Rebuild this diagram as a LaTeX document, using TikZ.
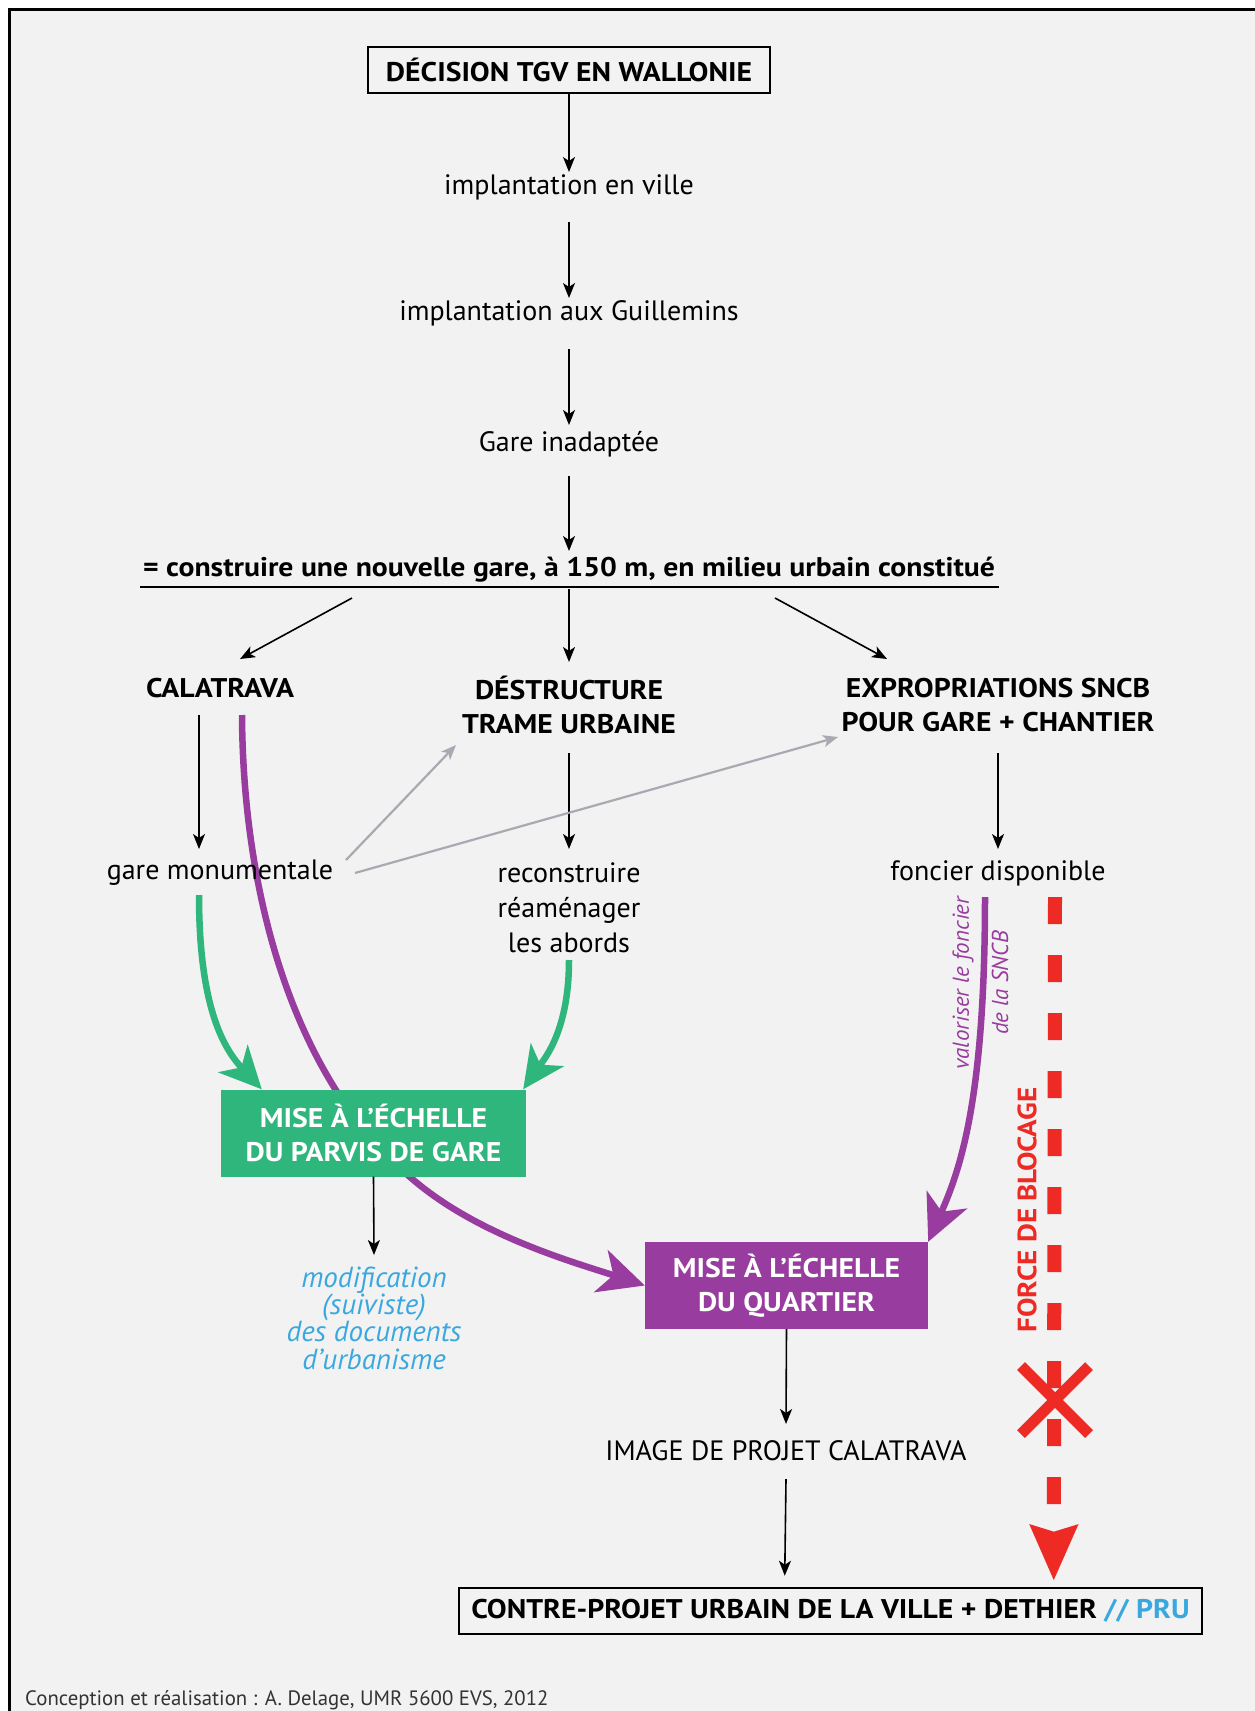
\documentclass[tikz,border=0pt]{standalone}
\usepackage{fontspec}
\setmainfont{PT Sans}[BoldFeatures={FakeStretch=1.1}]
\usetikzlibrary{arrows.meta,calc}
\definecolor{bg}{HTML}{F2F2F2}
\definecolor{pgreen}{HTML}{2EB67D}
\definecolor{ppurple}{HTML}{983C9F}
\definecolor{pblue}{HTML}{3AA8DF}
\definecolor{pred}{HTML}{EE2A24}
\definecolor{pgray}{HTML}{A9A9B2}
\definecolor{foot}{HTML}{333333}
\begin{document}
\begin{tikzpicture}[x=1pt,y=-1pt,
  captxt/.style={font=\bfseries\fontsize{27}{34}\selectfont, align=center, inner sep=0pt},
  txt/.style={font=\fontsize{28}{35}\selectfont, align=center, inner sep=0pt},
  boxed/.style={captxt, draw, line width=2.5pt, minimum height=46pt},
  colbox/.style={captxt, text=white, minimum height=87pt},
  bluetxt/.style={font=\itshape\fontsize{29}{27.3}\selectfont, text=pblue, align=center, inner sep=0pt},
  ptxt/.style={font=\itshape\fontsize{23}{23}\selectfont, text=ppurple, inner sep=0pt},
  redtxt/.style={font=\bfseries\fontsize{26.5}{26}\selectfont, text=pred, inner sep=0pt},
  arr/.style={-{Stealth[length=15pt,width=12pt,inset=4pt]}, line width=1.6pt},
  garr/.style={-{Stealth[length=15pt,width=12pt,inset=4pt]}, line width=2.2pt, draw=pgray},
  parr/.style={-{Stealth[length=46pt,width=44pt,inset=13pt]}, line width=6.5pt, draw=ppurple},
  grarr/.style={-{Stealth[length=42pt,width=40pt,inset=12pt]}, line width=6.5pt, draw=pgreen},
  redd/.style={-{Stealth[length=55pt,width=46pt,inset=6pt]}, line width=14pt, draw=pred, dash pattern=on 27pt off 31pt}
]
\useasboundingbox (0,0) rectangle (1255,1711);
\fill[white] (0,0) rectangle (1255,1711);
\fill[bg] (9,9) rectangle (1255,1711);
\draw[line width=3pt] (9,1711) -- (9,9) -- (1255,9);

% top chain
\node[boxed, minimum width=402pt] (title) at (569,70) {DÉCISION TGV EN WALLONIE};
\node[txt] (n1) at (569,187) {implantation en ville};
\node[txt] (n2) at (569,313) {implantation aux Guillemins};
\node[txt] (n3) at (569,444) {Gare inadaptée};
\node[captxt] (n4) at (569,570) {= construire une nouvelle gare, à 150 m, en milieu urbain constitué};
\draw[line width=2.5pt] ($(n4)+(-429,17)$) -- ($(n4)+(430,17)$);

\node[captxt] (cal) at (220,688) {CALATRAVA};
\node[captxt] (des) at (569,705) {DÉSTRUCTURE\\TRAME URBAINE};
\node[captxt] (exp) at (998,705) {EXPROPRIATIONS SNCB\\POUR GARE + CHANTIER};

\node[colbox, fill=ppurple, minimum width=283pt] (quart) at (786.5,1285.5) {MISE À L’ÉCHELLE\\DU QUARTIER};

% purple curve from Calatrava (under green box)
\draw[parr] ($(cal)+(22,27)$) .. controls (243,900) and (296,1080) .. (410,1177)
  .. controls (476,1235) and (573,1262) .. (quart.west);

\node[txt] (gm) at (220,873) {gare monumentale};
\node[txt] (rec) at (569,908) {reconstruire\\réaménager\\les abords};
\node[txt] (fon) at (998,873) {foncier disponible};

\node[colbox, fill=pgreen, minimum width=305pt] (parvis) at (373.5,1133) {MISE À L’ÉCHELLE\\DU PARVIS DE GARE};

\node[bluetxt] (modif) at (374,1318) {modification\\(suiviste)\\des documents\\d’urbanisme};
\node[txt] (img) at (786,1451) {IMAGE DE PROJET CALATRAVA};
\node[boxed, minimum width=743pt] (final) at (830.5,1611) {CONTRE-PROJET URBAIN DE LA VILLE + DETHIER \textcolor{pblue}{// PRU}};

\node[ptxt, rotate=90] (val1) at (963,983) {valoriser le foncier};
\node[ptxt, rotate=90] (val2) at (1000,983) {de la SNCB};
\node[redtxt, rotate=90] (force) at (1027,1210) {FORCE DE BLOCAGE};

\node[font=\fontsize{20.8}{20.8}\selectfont, text=foot, anchor=west, inner sep=0pt] (footer) at (25,1700) {Conception et réalisation : A. Delage, UMR 5600 EVS, 2012};

% black arrows
\draw[arr] (title.south) -- ($(n1)+(0,-15)$);
\draw[arr] ($(n1)+(0,35)$) -- ($(n2)+(0,-15)$);
\draw[arr] ($(n2)+(0,36)$) -- ($(n3)+(0,-19)$);
\draw[arr] ($(n3)+(0,32)$) -- ($(n4)+(0,-19)$);
\draw[arr] ($(n4)+(-217,28)$) -- ($(cal)+(20,-29)$);
\draw[arr] ($(n4)+(0,19)$) -- ($(des)+(0,-43)$);
\draw[arr] ($(n4)+(206,28)$) -- ($(exp)+(-111,-46)$);
\draw[arr] ($(cal)+(-21,27)$) -- ($(gm)+(-21,-24)$);
\draw[arr] ($(des)+(0,48)$) -- ($(rec)+(0,-59)$);
\draw[arr] ($(exp)+(0,48)$) -- ($(fon)+(0,-24)$);

% gray arrows
\draw[garr] ($(gm)+(126,-13)$) -- ($(des)+(-113,40)$);
\draw[garr] ($(gm)+(135,0)$) -- ($(exp)+(-160,32)$);

% green arrows
\draw[grarr] ($(gm)+(-21,22)$) .. controls (199,1010) and (225,1050) .. ($(parvis.north west)+(41,0)$);
\draw[grarr] ($(rec)+(0,52)$) .. controls (569,1030) and (545,1058) .. ($(parvis.north east)+(-3,0)$);

% purple arrow from foncier
\draw[parr] ($(fon)+(-13,24)$) .. controls (985,1100) and (960,1170) .. (quart.north east);

% red blocking line
\draw[redd] ($(fon)+(57,24)$) -- ($(final.north west)+(596,-6)$);
\draw[pred, line width=11pt] (1021,1366) -- (1089,1434);
\draw[pred, line width=11pt] (1089,1366) -- (1021,1434);

% lower black arrows
\draw[arr] (parvis.south) -- ($(modif)+(0,-63)$);
\draw[arr] (quart.south) -- ($(img)+(0,-27)$);
\draw[arr] ($(img)+(0,28)$) -- ($(final.north west)+(327,-11)$);
\end{tikzpicture}
\end{document}
